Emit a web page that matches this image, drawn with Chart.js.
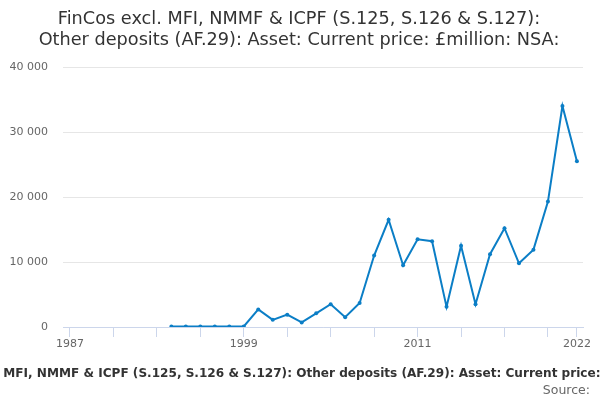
<!DOCTYPE html>
<html>
<head>
<meta charset="utf-8">
<script src="https://cdn.jsdelivr.net/npm/chart.js@4/dist/chart.umd.min.js"></script>
<style>
html,body{margin:0;padding:0;background:#fff;}
canvas{display:block;}
</style>
</head>
<body>
<canvas id="c" width="600" height="400"></canvas>
<script>
const titleLines = ["FinCos excl. MFI, NMMF & ICPF (S.125, S.126 & S.127):", "Other deposits (AF.29): Asset: Current price: £million: NSA:"];
const axisTitle = "FinCos excl. MFI, NMMF & ICPF (S.125, S.126 & S.127): Other deposits (AF.29): Asset: Current price: £million: NSA:";
const sourceText = "Source:";
const years = [1994,1995,1996,1997,1998,1999,2000,2001,2002,2003,2004,2005,2006,2007,2008,2009,2010,2011,2012,2013,2014,2015,2016,2017,2018,2019,2020,2021,2022];
const values = [80,80,80,80,80,80,2700,1100,1900,700,2100,3500,1500,3700,11000,16500,9500,13500,13200,3100,12500,3500,11200,15200,9800,11900,19300,34000,25500];
const xTickYears = [1987,1990,1993,1996,1999,2002,2005,2008,2011,2014,2017,2020,2022];
const xLabelYears = [1987,1999,2011,2022];
const yTicks = [0,10000,20000,30000,40000];

const FONT = "'DejaVu Sans', sans-serif";
const fmt = v => String(v).replace(/\B(?=(\d{3})+(?!\d))/g, ' ');

const textPlugin = {
  id: 'texts',
  afterDraw(chart) {
    const ctx = chart.ctx;
    ctx.save();
    ctx.fillStyle = '#333333';
    ctx.textBaseline = 'middle';
    ctx.textAlign = 'center';
    ctx.font = "17.7px " + FONT;
    ctx.fillText(titleLines[0], 299, 19);
    ctx.fillText(titleLines[1], 299, 40);
    // bottom axis title: size so the visible part matches the reference
    ctx.font = "bold 13px " + FONT;
    const visible = "MFI, NMMF & ICPF (S.125, S.126 & S.127): Other deposits (AF.29): Asset: Current price:";
    const size = 13 * 598 / ctx.measureText(visible).width;
    ctx.font = "bold " + size.toFixed(2) + "px " + FONT;
    ctx.textAlign = 'left';
    const pre = ctx.measureText("FinCos excl. ").width;
    ctx.fillText(axisTitle, 3.3 - pre, 374);
    ctx.font = "12.5px " + FONT;
    ctx.fillStyle = '#666666';
    ctx.textAlign = 'right';
    ctx.fillText(sourceText, 590, 391);
    ctx.restore();
  }
};

new Chart(document.getElementById('c'), {
  type: 'line',
  data: {
    datasets: [{
      data: years.map((y, i) => ({x: y, y: values[i]})),
      borderColor: '#0b7ec6',
      backgroundColor: '#0b7ec6',
      pointBackgroundColor: '#0b7ec6',
      pointBorderColor: '#0b7ec6',
      borderWidth: 2,
      pointRadius: 2,
      pointBorderWidth: 0,
      tension: 0
    }]
  },
  options: {
    responsive: false,
    animation: false,
    layout: {padding: {top: 67, right: 17, left: 0, bottom: 0}},
    plugins: {legend: {display: false}, title: {display: false}, tooltip: {enabled: false}},
    scales: {
      x: {
        type: 'linear',
        min: 1986.52,
        max: 2022.42,
        afterBuildTicks: s => { s.ticks = xTickYears.map(v => ({value: v})); },
        afterFit: s => { s.height = 73; },
        grid: {drawOnChartArea: false, drawTicks: true, tickLength: 10, color: '#ccd6eb'},
        border: {display: true, color: '#ccd6eb'},
        ticks: {
          autoSkip: false, maxRotation: 0, padding: 1,
          color: '#666666', font: {family: FONT, size: 11},
          callback: v => xLabelYears.includes(v) ? String(v) : ''
        }
      },
      y: {
        min: 0,
        max: 40000,
        afterBuildTicks: s => { s.ticks = yTicks.map(v => ({value: v})); },
        afterFit: s => { s.width = 63; },
        grid: {color: '#e6e6e6', drawTicks: false},
        border: {display: false},
        ticks: {padding: 15, color: '#666666', font: {family: FONT, size: 11}, callback: v => fmt(v)}
      }
    }
  },
  plugins: [textPlugin]
});
</script>
</body>
</html>
